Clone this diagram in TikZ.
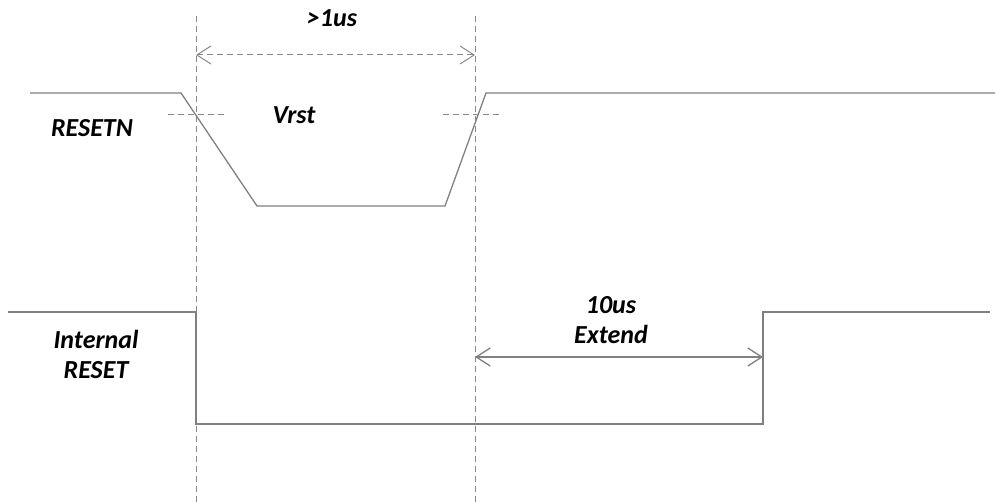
\documentclass[tikz,border=0pt]{standalone}
\usepackage{fontspec}
\setmainfont{Carlito}
\usetikzlibrary{arrows.meta}
\definecolor{wave}{HTML}{808080}
\definecolor{guidegray}{HTML}{888888}
\tikzset{
	wire/.style={draw=wave, line width=0.65pt},
	guide/.style={draw=guidegray, line width=0.5pt, dash pattern=on 3pt off 2pt},
	lbl/.style={font=\fontsize{13}{15}\selectfont\bfseries\itshape, align=center, inner sep=0pt},
	dimarrow/.style={{Straight Barb[length=7pt,width=9pt]}-{Straight Barb[length=7pt,width=9pt]}}
}
\begin{document}
\begin{tikzpicture}[x=0.5pt, y=-0.5pt]
	\useasboundingbox (0,0) rectangle (1002,502);
	% repères temporels
	\coordinate (t1top) at (196,16);
	\coordinate (t1bot) at (196,502);
	\coordinate (t2top) at (475,16);
	\coordinate (t2bot) at (475,502);
	\draw[guide] (t1top)--(t1bot);
	\draw[guide] (t2top)--(t2bot);
	% seuils Vrst
	\draw[guide] (168,115)--(227,115);
	\draw[guide] (443,115)--(502,115);
	% signal RESETN
	\draw[wire] (30,93)--(181,93)--(257,206)--(445,206)--(486,93)--(995,93);
	% signal interne
	\draw[wire] (8,312)--(196,312)--(196,424)--(763,424)--(763,312)--(990,312);
	% cotes
	\coordinate (w1) at (196,55);
	\coordinate (w2) at (475,55);
	\coordinate (e1) at (475,357);
	\coordinate (e2) at (763,357);
	\draw[guide, dimarrow] (w1)--(w2);
	\draw[wire, dimarrow] (e1)--(e2);
	% étiquettes
	\node[lbl] (pulse) at (332,18) {>1us};
	\node[lbl] (vrst) at (294,115) {Vrst};
	\node[lbl] (resetn) at (92,128) {RESETN};
	\node[lbl] (intreset) at (96,354) {Internal\\RESET};
	\node[lbl] (extend) at (611,320) {10us\\Extend};
\end{tikzpicture}
\end{document}
